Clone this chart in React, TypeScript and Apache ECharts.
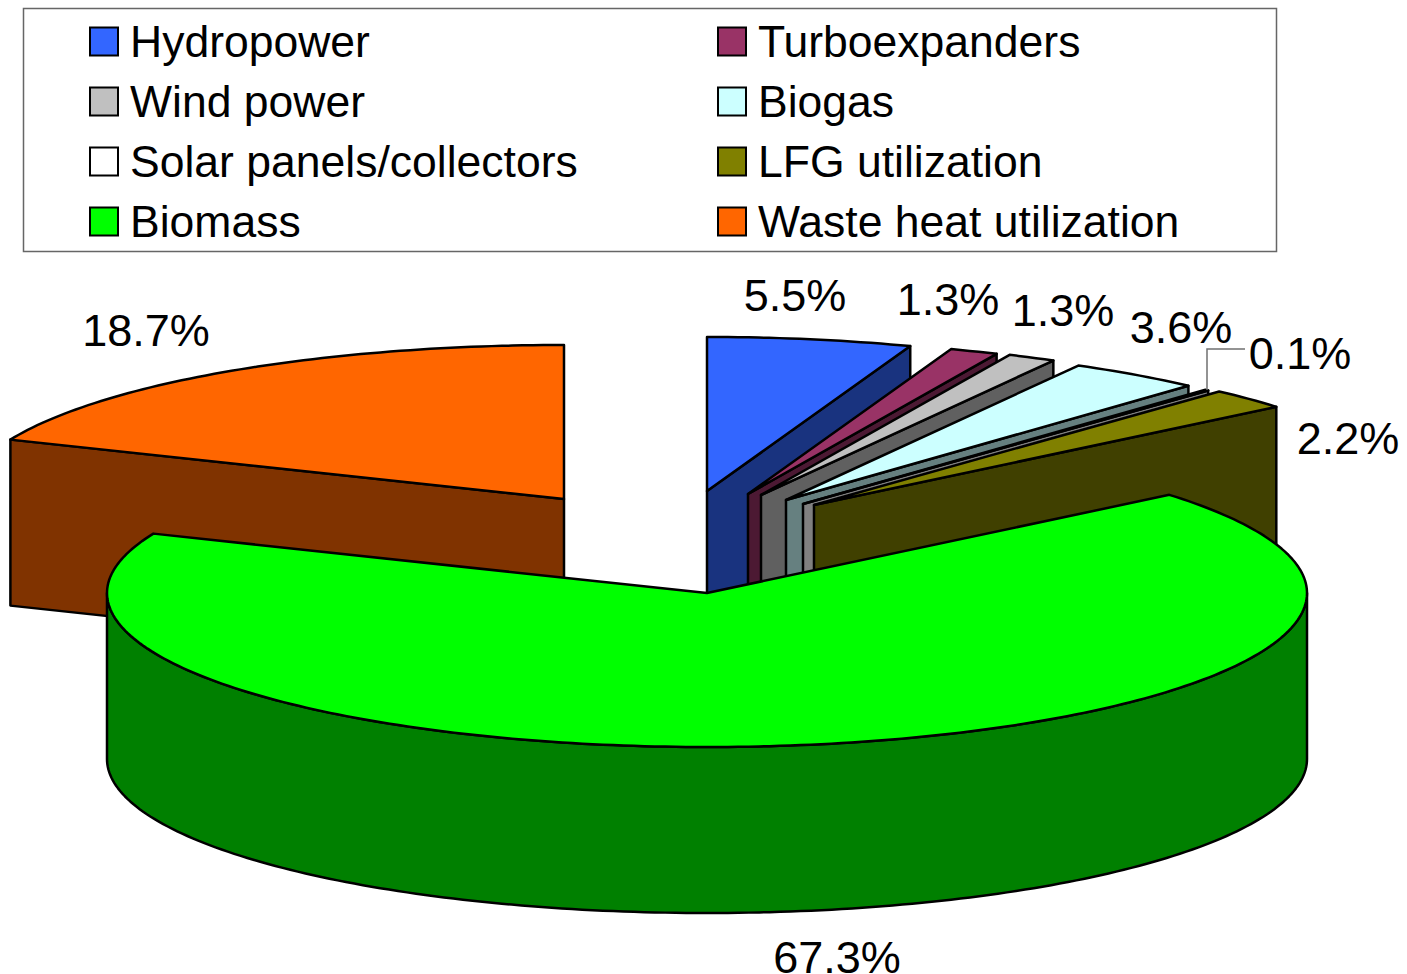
import React, { useEffect, useRef } from "react";
import * as echarts from "echarts";

const sliceNames = ["Hydropower", "Turboexpanders", "Wind power", "Biogas", "Solar panels/collectors", "LFG utilization", "Biomass", "Waste heat utilization"];
const sliceValues = [5.5, 1.3, 1.3, 3.6, 0.1, 2.2, 67.3, 18.7];
const legendLeft = ["Hydropower", "Wind power", "Solar panels/collectors", "Biomass"];
const legendRight = ["Turboexpanders", "Biogas", "LFG utilization", "Waste heat utilization"];

const topColors = ["#3366FF", "#993366", "#C0C0C0", "#CCFFFF", "#FFFFFF", "#808000", "#00FF00", "#FF6600"];
const wallColors = ["#19337F", "#4C1933", "#606060", "#668080", "#808080", "#404000", "#008000", "#803300"];

// layout of the drawing, in pixels
const CX = 707, CY = 593, RX = 600, RY = 154, DEPTH = 166;
const apexOffsetX = [0, 41, 54, 79, 96, 107, 0, -143];
const apexOffsetY = [-102, -99, -98, -93, -89, -88, 0, -94];
const labelX = [795, 948, 1063, 1181, 1300, 1348, 837, 146];
const labelY = [295, 299, 310, 327, 353, 438, 957, 330];
const leaderLine = [[1245, 349], [1207, 349], [1207, 390]];
const drawOrder = [7, 0, 1, 2, 3, 4, 5, 6];

const total = sliceValues.reduce((a, b) => a + b, 0);
const startPct = sliceValues.map((_, i) => sliceValues.slice(0, i).reduce((a, b) => a + b, 0));

function rim(ax: number, ay: number, deg: number, down = 0): number[] {
  const t = (deg * Math.PI) / 180;
  return [ax + RX * Math.sin(t), ay - RY * Math.cos(t) + down];
}

function arc(ax: number, ay: number, from: number, to: number, down = 0): number[][] {
  const pts: number[][] = [];
  const steps = Math.max(2, Math.ceil(to - from));
  for (let k = 0; k <= steps; k++) pts.push(rim(ax, ay, from + ((to - from) * k) / steps, down));
  return pts;
}

function makeRender(i: number) {
  return (_params: any, api: any) => {
    const value = api.value(0);
    const a0 = (startPct[i] / total) * 360;
    const a1 = a0 + (value / total) * 360;
    const ax = CX + apexOffsetX[i];
    const ay = CY + apexOffsetY[i];
    const line = { stroke: "#000", lineWidth: 2.5, lineJoin: "round" };
    const children: any[] = [];
    const wall = (points: number[][]) =>
      children.push({ type: "polygon", shape: { points }, style: { fill: wallColors[i], ...line } });

    if (a1 <= 90) {
      const e = rim(ax, ay, a1);
      wall([[ax, ay], e, [e[0], e[1] + DEPTH], [ax, ay + DEPTH]]);
    }
    if (a0 >= 270) {
      const s = rim(ax, ay, a0);
      wall([[ax, ay], s, [s[0], s[1] + DEPTH], [ax, ay + DEPTH]]);
    }
    if (a0 < 270 && a1 > 90) {
      const from = Math.max(a0, 90);
      const to = Math.min(a1, 270);
      wall([...arc(ax, ay, from, to), ...arc(ax, ay, from, to, DEPTH).reverse()]);
    }
    children.push({
      type: "polygon",
      shape: { points: [[ax, ay], ...arc(ax, ay, a0, a1)] },
      style: { fill: topColors[i], ...line },
    });
    if (i === 4) {
      children.push({
        type: "polyline",
        shape: { points: leaderLine },
        style: { fill: "none", stroke: "#707070", lineWidth: 1.5 },
      });
    }
    children.push({
      type: "text",
      x: labelX[i],
      y: labelY[i],
      style: {
        text: `${value}%`,
        fill: "#000",
        font: '45px "Liberation Sans", Arial, sans-serif',
        lineHeight: 32,
        align: "center",
        verticalAlign: "middle",
      },
    });
    return { type: "group", children };
  };
}

const legendBase = {
  orient: "vertical" as const,
  top: 19,
  itemWidth: 28,
  itemHeight: 28,
  itemGap: 15,
  padding: 0,
  selectedMode: false,
  textStyle: {
    color: "#000",
    fontFamily: '"Liberation Sans", Arial, sans-serif',
    fontSize: 44.5,
    height: 45,
    lineHeight: 45,
    padding: [0, 0, 0, 7],
  },
};

const legendItem = (name: string) => {
  const i = sliceNames.indexOf(name);
  return {
    name,
    icon: "rect",
    itemStyle: { color: topColors[i], borderColor: "#000", borderWidth: 2 },
  };
};

export default function App() {
  const ref = useRef<HTMLDivElement>(null);
  useEffect(() => {
    document.body.style.margin = "0";
    const chart = echarts.init(ref.current!, undefined, { renderer: "svg" });
    chart.setOption({
      animation: false,
      backgroundColor: "#fff",
      graphic: [
        {
          type: "rect",
          z: -1,
          shape: { x: 23.5, y: 8.5, width: 1253, height: 243 },
          style: { fill: "#fff", stroke: "#666", lineWidth: 1.5 },
        },
      ],
      legend: [
        { ...legendBase, left: 89, data: legendLeft.map(legendItem) },
        { ...legendBase, left: 717, data: legendRight.map(legendItem) },
      ],
      series: drawOrder.map((i) => ({
        type: "custom",
        name: sliceNames[i],
        coordinateSystem: "none",
        silent: true,
        clip: false,
        itemStyle: { color: topColors[i] },
        renderItem: makeRender(i),
        data: [[sliceValues[i]]],
      })),
    });
    return () => chart.dispose();
  }, []);
  return <div ref={ref} style={{ position: "fixed", left: 0, top: 0, width: 1407, height: 974 }} />;
}
